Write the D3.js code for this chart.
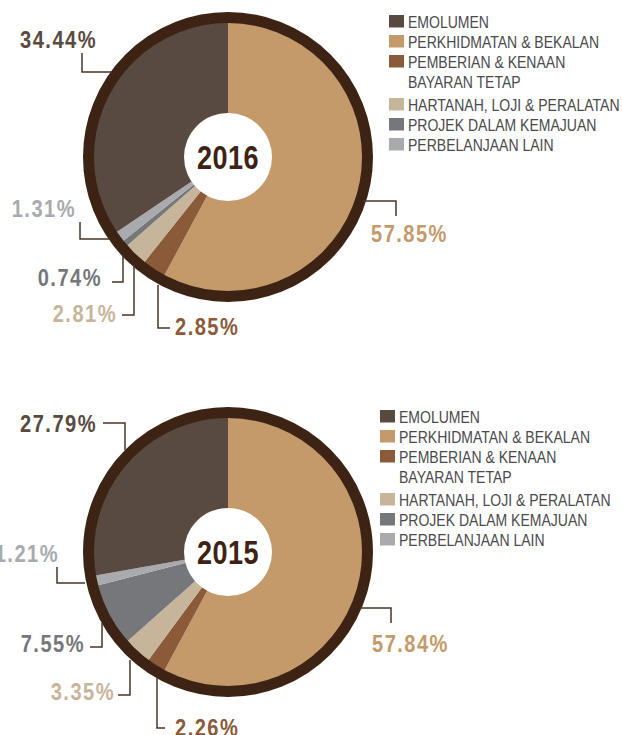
<!DOCTYPE html>
<html>
<head>
<meta charset="utf-8">
<script src="https://cdn.jsdelivr.net/npm/d3@7"></script>
<style>
  body { margin: 0; background: #fff; }
  svg { display: block; }
</style>
</head>
<body>
<div id="chart"></div>
<script>
// categories, in the clockwise order the slices are drawn (from 12 o'clock)
const categories = ["PERKHIDMATAN & BEKALAN", "PEMBERIAN & KENAAN BAYARAN TETAP", "HARTANAH, LOJI & PERALATAN", "PROJEK DALAM KEMAJUAN", "PERBELANJAAN LAIN", "EMOLUMEN"]
const years = ["2016", "2015"]
const values2016 = [57.85, 2.85, 2.81, 0.74, 1.31, 34.44]
const values2015 = [57.84, 2.26, 3.35, 7.55, 1.21, 27.79]

// legend order
const legendItems = [
    ["EMOLUMEN"],
    ["PERKHIDMATAN & BEKALAN"],
    ["PEMBERIAN & KENAAN", "BAYARAN TETAP"],
    ["HARTANAH, LOJI & PERALATAN"],
    ["PROJEK DALAM KEMAJUAN"],
    ["PERBELANJAAN LAIN"]
]
const legendKeys = ["EMOLUMEN", "PERKHIDMATAN & BEKALAN", "PEMBERIAN & KENAAN BAYARAN TETAP", "HARTANAH, LOJI & PERALATAN", "PROJEK DALAM KEMAJUAN", "PERBELANJAAN LAIN"]

const colours = ["#c49a6b", "#8a5a39", "#c7b59b", "#76777b", "#a8aaad", "#584a41"]
const ringColour = "#3c2314"
const lineColour = "#4b3426"

let width = 622
let height = 735

// hand placed callouts, relative to the pie centre: [text x, text y, anchor, leader points]
const callouts2016 = [
    [143, 85, "start", [[135, 44], [168, 44], [168, 59]]],
    [-53, 178, "start", [[-70, 128], [-70, 171], [-58, 171]]],
    [-111, 165, "end", [[-106, 158], [-94, 158], [-94, 108]]],
    [-126, 129, "end", [[-116, 125], [-105, 125], [-105, 98]]],
    [-152, 60, "end", [[-118, 82], [-148, 82], [-148, 65]]],
    [-131, -109, "end", [[-116, -85], [-146, -85], [-146, -104]]]
]
const callouts2015 = [
    [144, 100, "start", [[132, 56], [163, 56], [163, 71]]],
    [-53, 184, "start", [[-71, 126], [-71, 176], [-63, 176]]],
    [-113, 148, "end", [[-110, 143], [-98, 143], [-98, 108]]],
    [-143, 100, "end", [[-138, 95], [-126, 95], [-126, 71]]],
    [-169, 10, "end", [[-143, 31], [-171, 31], [-171, 15]]],
    [-131, -120, "end", [[-125, -129], [-103, -129], [-103, -102]]]
]

// no narrow font installed, so squeeze Liberation Sans sideways
const font = "'Liberation Sans', Arial, sans-serif"
const squeeze = 0.82

let svg = d3.select("#chart")
            .append("svg")
                .attr("width", width)
                .attr("height", height)

let colour = d3.scaleOrdinal().domain(categories).range(colours)

let pie = d3.pie().sort(null).value(d => d)
let arc = d3.arc().innerRadius(0).outerRadius(136)

function drawPie(year, values, callouts, cx, cy, legendX, legendY) {
    let g = svg.append("g").attr("transform", `translate(${cx}, ${cy})`)

    g.selectAll("path.slice")
        .data(pie(values))
        .enter()
        .append("path")
            .attr("class", "slice")
            .attr("d", arc)
            .attr("fill", (d, i) => colour(categories[i]))

    // dark outer ring
    g.append("circle")
        .attr("r", 139.5)
        .attr("fill", "none")
        .attr("stroke", ringColour)
        .attr("stroke-width", 11)

    g.append("circle")
        .attr("r", 44)
        .attr("fill", "#fff")

    g.append("text")
        .attr("transform", `translate(0, 12) scale(${squeeze}, 1)`)
        .attr("text-anchor", "middle")
        .attr("font-family", font)
        .attr("font-weight", "bold")
        .attr("font-size", "33px")
        .attr("letter-spacing", "0.5px")
        .attr("fill", ringColour)
        .text(year)

    // leader lines
    g.selectAll("polyline")
        .data(callouts)
        .enter()
        .append("polyline")
            .attr("points", d => d[3].map(p => p.join(",")).join(" "))
            .attr("fill", "none")
            .attr("stroke", lineColour)
            .attr("stroke-width", 1.5)

    g.selectAll("text.pct")
        .data(callouts)
        .enter()
        .append("text")
            .attr("class", "pct")
            .attr("transform", d => `translate(${d[0]}, ${d[1]}) scale(${squeeze}, 1)`)
            .attr("text-anchor", d => d[2])
            .attr("font-family", font)
            .attr("font-weight", "bold")
            .attr("font-size", "24.5px")
            .attr("letter-spacing", "1.8px")
            .attr("fill", (d, i) => colour(categories[i]))
            .text((d, i) => values[i].toFixed(2) + "%")

    // legend
    let lg = svg.append("g").attr("transform", `translate(${legendX}, ${legendY})`)
    let row = 0
    legendItems.forEach((lines, i) => {
        let y = row * 20 + (row > 3 ? 3 : 0)
        lg.append("rect")
            .attr("x", 0)
            .attr("y", y - 13)
            .attr("width", 15)
            .attr("height", 12.5)
            .attr("fill", colour(legendKeys[i]))
        lines.forEach((t, j) => {
            lg.append("text")
                .attr("transform", `translate(19, ${y + j * 20}) scale(0.85, 1)`)
                .attr("font-family", font)
                .attr("font-size", "16.5px")
                .attr("fill", "#4a4a4c")
                .text(t)
        })
        row += lines.length
    })
}

drawPie(years[0], values2016, callouts2016, 228, 157, 389, 28)
drawPie(years[1], values2015, callouts2015, 228, 552, 380, 423)
</script>
</body>
</html>
